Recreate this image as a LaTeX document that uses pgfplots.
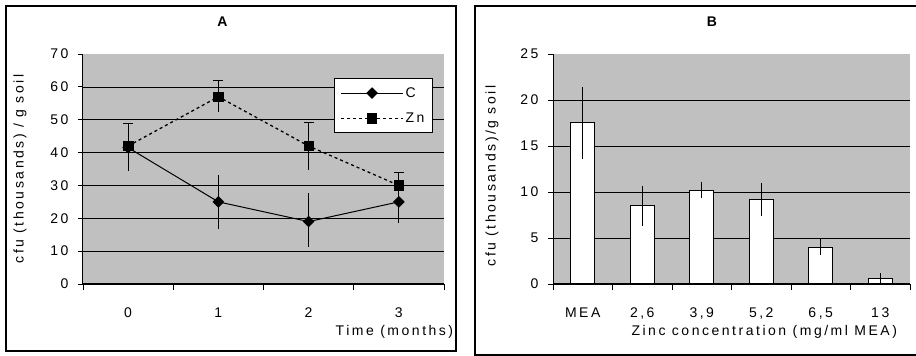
\documentclass[border=0pt]{standalone}
\usepackage{pgfplots}
\pgfplotsset{compat=1.18}
\usepackage{fontspec}
\setmainfont{Liberation Sans}[LetterSpace=18]
\definecolor{plotgray}{HTML}{C0C0C0}
\newcommand{\myfs}{\fontsize{14pt}{16pt}\selectfont}
\begin{document}
\begin{tikzpicture}
\path[use as bounding box] (0pt,0pt) rectangle (916pt,356pt);
\draw[line width=1.2pt] (6pt,350pt) rectangle (456pt,5pt);
\draw[line width=1.2pt] (475pt,350pt) rectangle (940pt,1pt);
\pgfplotsset{
  common/.style={
    scale only axis, height=230pt,
    axis background/.style={fill=plotgray},
    axis x line*=bottom, axis y line*=left,
    axis line style={black, line width=1pt},
    tick align=outside,
    major tick length=5pt, minor tick length=6pt,
    tick style={black, line width=0.8pt},
    major x tick style={draw=none},
    ymajorgrids, grid style={black, line width=0.7pt},
    extra y tick style={grid=none},
    tick label style={font=\myfs},
    /pgf/number format/assume math mode=true,
    yticklabel style={xshift=-6pt},
    xticklabel style={yshift=-15pt},
    label style={font=\myfs},
    title style={font=\myfs\bfseries, anchor=center},
  }
}
\begin{axis}[common,
  at={(83pt,72pt)}, anchor=south west, width=361pt,
  xmin=-0.5, xmax=3.5, ymin=0, ymax=70,
  xtick={0,1,2,3}, minor xtick={-0.5,0.5,1.5,2.5,3.5},
  ytick={0,10,...,60}, extra y ticks={70},
  title={A}, title style={at={(axis description cs:0.386,1)}, yshift=26pt},
  xlabel={Time (months)},
  xlabel style={at={(axis description cs:1,0)}, anchor=east, xshift=12.7pt, yshift=-48pt},
  ylabel={cfu (thousands) / g soil},
  ylabel style={at={(axis description cs:0,0.5)}, anchor=center, yshift=63pt},
  legend style={at={(rel axis cs:0.9695,0.8957)}, anchor=north east, draw=black, line width=0.9pt, fill=white, font=\myfs, row sep=10pt, inner xsep=6pt, inner ysep=7pt},
  legend cell align=left,
  legend image code/.code={\draw[mark repeat=2,mark phase=2] plot coordinates {(0pt,0pt) (31pt,0pt) (62pt,0pt)};},
]
% error bars
\addplot[only marks, mark=none, forget plot, error bars/.cd, y dir=both, y explicit, error mark=none, error bar style={black, solid, line width=1pt}]
 coordinates {(0,41.5) +- (0,7) (1,25) +- (0,8.2) (2,19.5) +- (0,8.3) (3,25) +- (0,6.3)};
\addplot[only marks, mark=none, forget plot, error bars/.cd, y dir=plus, y explicit, error mark=-, error mark options={rotate=90, mark size=5pt, line width=1pt, black, solid}, error bar style={black, solid, line width=1pt}]
 coordinates {(0,42) +- (0,6.8) (1,57) +- (0,4.8) (2,42) +- (0,7.3) (3,30) +- (0,3.9)};
\addplot[only marks, mark=none, forget plot, error bars/.cd, y dir=minus, y explicit, error mark=none, error bar style={black, solid, line width=1pt}]
 coordinates {(0,42) +- (0,6.8) (1,57) +- (0,4.8) (2,42) +- (0,7.3) (3,30) +- (0,3.9)};
\addplot[black, line width=1pt, mark=square*, mark size=3.6pt, mark options={rotate=45, solid}]
 coordinates {(0,41.5) (1,25) (2,19) (3,25)};
\addlegendentry{C}
\addplot[black, line width=1.3pt, dash pattern=on 3pt off 3pt, mark=square*, mark size=4.7pt, mark options={solid, line width=0.5pt}]
 coordinates {(0,42) (1,57) (2,42) (3,30)};
\addlegendentry{Zn}
\end{axis}
\begin{axis}[common,
  at={(553pt,72pt)}, anchor=south west, width=357pt,
  xmin=-0.5, xmax=5.5, ymin=0, ymax=25,
  xtick={0,1,2,3,4,5}, xticklabels={MEA,{2,6},{3,9},{5,2},{6,5},13},
  minor xtick={-0.5,0.5,1.5,2.5,3.5,4.5,5.5},
  ytick={0,5,...,20}, extra y ticks={25},
  title={B}, title style={at={(axis description cs:0.445,1)}, yshift=26pt},
  xlabel={Zinc concentration (mg/ml MEA)},
  xlabel style={at={(axis description cs:0,0)}, anchor=west, xshift=75pt, yshift=-48pt},
  ylabel={cfu (thousands)/g soil},
  ylabel style={at={(axis description cs:0,0.5)}, anchor=center, yshift=61pt, xshift=-7pt},
  ybar, bar width=24pt,
]
\addplot[fill=white, draw=black, line width=1pt, error bars/.cd, y dir=both, y explicit, error mark=none, error bar style={black, line width=1pt}]
 coordinates {(0,17.5) +- (0,3.9) (1,8.5) +- (0,2.15) (2,10.2) +- (0,0.9) (3,9.2) +- (0,1.8) (4,4.0) +- (0,0.85) (5,0.65) +- (0,0.5)};
\end{axis}
\end{tikzpicture}
\end{document}
